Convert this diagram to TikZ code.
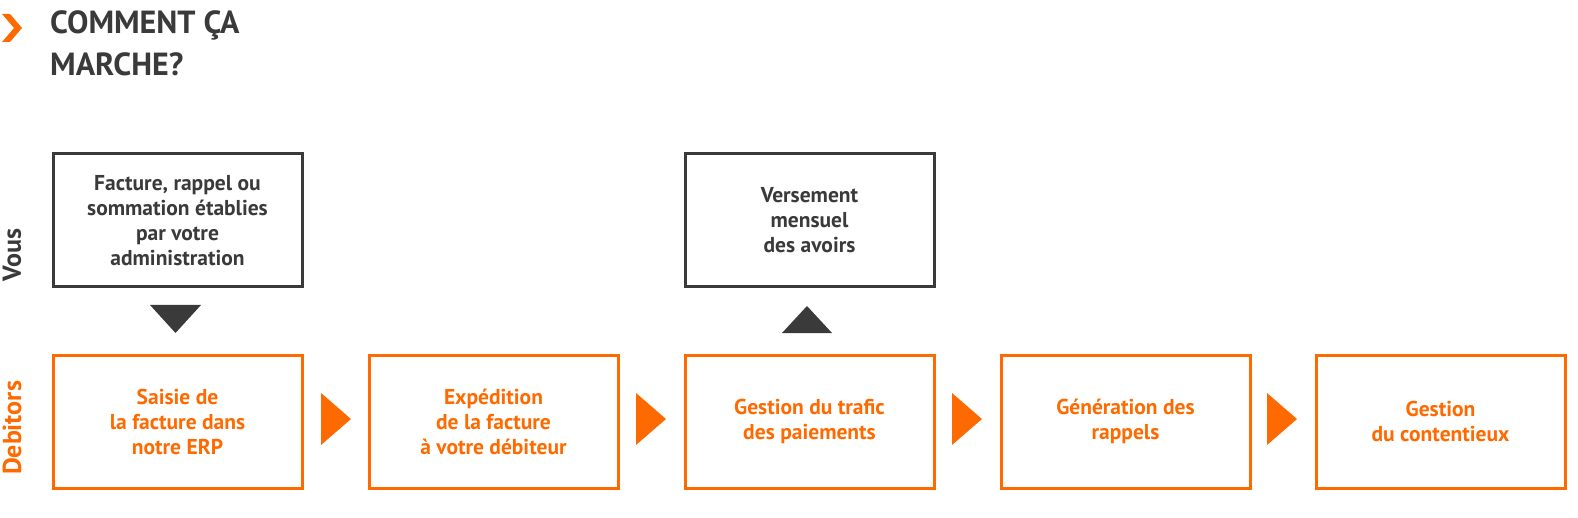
\documentclass[tikz,border=0pt]{standalone}
\usepackage{fontspec}
\setmainfont{PT Sans}
\definecolor{org}{HTML}{FF6A00}
\definecolor{dk}{HTML}{3A3A3A}
\begin{document}
\begin{tikzpicture}[x=1pt,y=-1pt,
 box/.style={draw=#1,line width=3pt,minimum width=249pt,minimum height=133pt,anchor=north west,align=center,text=#1,font=\bfseries\fontsize{21.5}{25}\selectfont},
 tri/.style={fill=#1}]
\useasboundingbox (0,0) rectangle (1578,518);
\fill[org] (2,14) -- (10,14) -- (22,28) -- (10,42) -- (2,42) -- (14,28) -- cycle;
\node[anchor=north west,text=dk,font=\bfseries\fontsize{32}{42}\selectfont,align=left,inner sep=0] (title) at (50,10) {COMMENT ÇA\\MARCHE?};
\node[rotate=90,text=dk,font=\bfseries\fontsize{26}{28}\selectfont] (vous) at (12,255) {Vous};
\node[rotate=90,text=org,font=\bfseries\fontsize{26}{28}\selectfont] (deb) at (12,428) {Debitors};
\node[box=dk] (t1) at (51.5,152.5) {Facture, rappel ou\\sommation établies\\par votre\\administration};
\node[box=dk] (t2) at (683.5,152.5) {Versement\\mensuel\\des avoirs};
\fill[dk] (150,305) -- (201,305) -- (175.5,333) -- cycle;
\fill[dk] (782,333) -- (832,333) -- (807,306) -- cycle;
\foreach \x/\n/\t in {50/b1/{Saisie de\\la facture dans\\notre ERP},366/b2/{Expédition\\de la facture\\à votre débiteur},682/b3/{Gestion du trafic\\des paiements},998/b4/{Génération des\\rappels},1313/b5/{Gestion\\du contentieux}}
  \node[box=org] (\n) at (\x+1.5,353.5) {\t};
\foreach \x in {321,636,952,1267}
  \fill[org] (\x,393) -- (\x+30,419) -- (\x,445) -- cycle;
\end{tikzpicture}
\end{document}
